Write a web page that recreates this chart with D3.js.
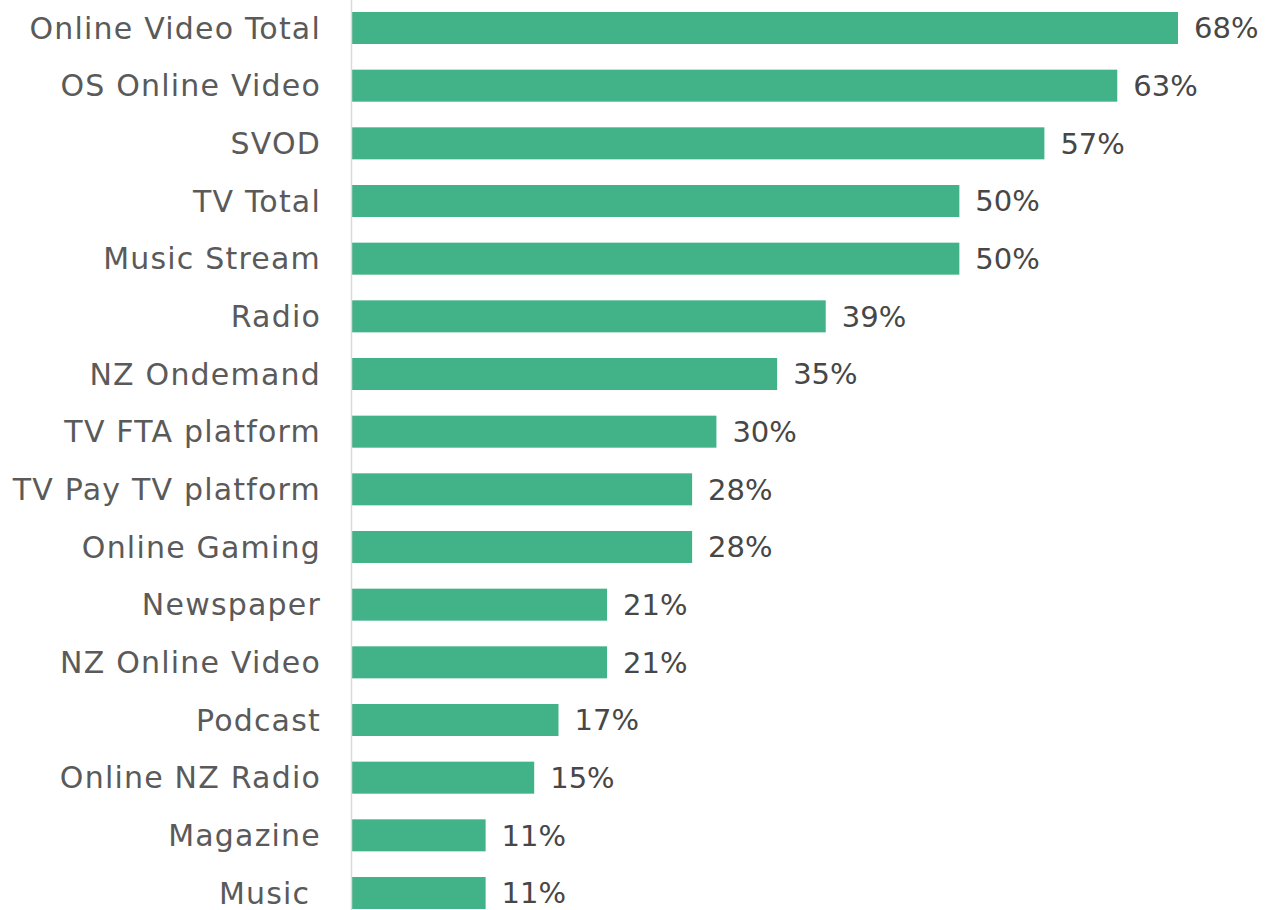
<!DOCTYPE html>
<html>
<head>
<meta charset="utf-8">
<script src="https://cdn.jsdelivr.net/npm/d3@7"></script>
<style>
  html, body { margin: 0; padding: 0; background: #ffffff; }
  svg text { font-family: "DejaVu Sans", "Noto Sans", sans-serif; }
</style>
</head>
<body>
<svg id="chart" width="1265" height="910"></svg>
<script>
// Share of respondents using each media type
const categories = [
  "Online Video Total", "OS Online Video", "SVOD", "TV Total", "Music Stream",
  "Radio", "NZ Ondemand", "TV FTA platform", "TV Pay TV platform", "Online Gaming",
  "Newspaper", "NZ Online Video", "Podcast", "Online NZ Radio", "Magazine", "Music "
];
const values = [68, 63, 57, 50, 50, 39, 35, 30, 28, 28, 21, 21, 17, 15, 11, 11];

const svg = d3.select("#chart");
const axisX = 352;

const x = d3.scaleLinear().domain([0, 68]).range([axisX, 1178]);
const y = d3.scaleBand().domain(categories).range([12, 909]).paddingInner(0.445).paddingOuter(0);

const data = categories.map((c, i) => ({ cat: c, val: values[i] }));

// Bars
svg.append("g").selectAll("rect")
  .data(data)
  .join("rect")
  .attr("x", x(0))
  .attr("y", d => y(d.cat))
  .attr("width", d => x(d.val) - x(0))
  .attr("height", y.bandwidth())
  .attr("fill", "#42B288");

// Category axis line
svg.append("line")
  .attr("x1", axisX - 0.5).attr("x2", axisX - 0.5)
  .attr("y1", 0).attr("y2", 910)
  .attr("stroke", "#d9d9d9")
  .attr("stroke-width", 1.5);

// Category labels
svg.append("g").selectAll("text")
  .data(data)
  .join("text")
  .attr("x", axisX - 31)
  .attr("y", d => y(d.cat) + y.bandwidth() / 2)
  .attr("dy", "0.36em")
  .attr("text-anchor", "end")
  .style("white-space", "pre")
  .style("letter-spacing", "1.2px")
  .attr("font-size", 30)
  .attr("fill", "#5a5a5a")
  .text(d => d.cat);

// Value labels
svg.append("g").selectAll("text")
  .data(data)
  .join("text")
  .attr("x", d => x(d.val) + 16)
  .attr("y", d => y(d.cat) + y.bandwidth() / 2)
  .attr("dy", "0.36em")
  .attr("font-size", 29)
  .attr("fill", "#474747")
  .text(d => d.val + "%");
</script>
</body>
</html>
